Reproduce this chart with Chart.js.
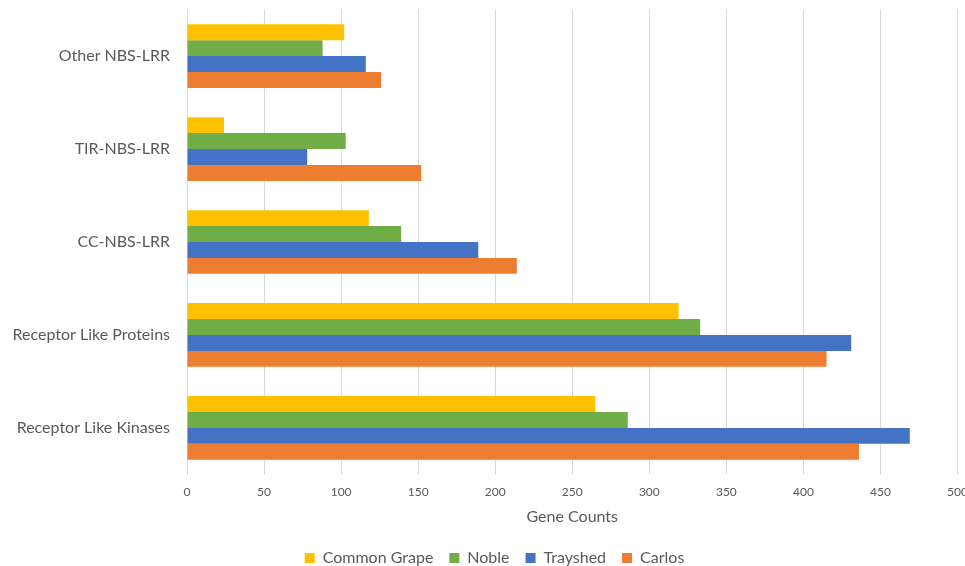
<!DOCTYPE html>
<html>
<head>
<meta charset="utf-8">
<script src="https://cdn.jsdelivr.net/npm/chart.js@4"></script>
<style>
  html, body { margin: 0; padding: 0; background: #fff; overflow: hidden; }
  #wrap { position: relative; width: 979px; height: 566px; }
</style>
</head>
<body>
<div id="wrap"><canvas id="c"></canvas></div>
<script>
const categories = ['Other NBS-LRR', 'TIR-NBS-LRR', 'CC-NBS-LRR', 'Receptor Like Proteins', 'Receptor Like Kinases'];
const seriesNames = ['Common Grape', 'Noble', 'Trayshed', 'Carlos'];
const commonGrape = [102, 24, 118, 319, 265];
const noble = [88, 103, 139, 333, 286];
const trayshed = [116, 78, 189, 431, 469];
const carlos = [126, 152, 214, 415, 436];
const xTicks = [0, 50, 100, 150, 200, 250, 300, 350, 400, 450, 500];
const xTitle = 'Gene Counts';

const colors = ['#FFC000', '#70AD47', '#4472C4', '#ED7D31'];
const values = [commonGrape, noble, trayshed, carlos];
const FONT = 'Lato, "Open Sans", sans-serif';
const TEXT = '#595959';
const LEFT_PAD = 10;

new Chart(document.getElementById('c'), {
  type: 'bar',
  data: {
    labels: categories,
    datasets: seriesNames.map((n, i) => ({
      label: n,
      data: values[i],
      backgroundColor: colors[i],
      borderWidth: 0,
      categoryPercentage: 0.685,
      barPercentage: 1.0
    }))
  },
  options: {
    indexAxis: 'y',
    responsive: true,
    maintainAspectRatio: false,
    animation: false,
    layout: { padding: { top: 9, right: 0, bottom: -10, left: LEFT_PAD } },
    scales: {
      x: {
        min: xTicks[0],
        max: xTicks[xTicks.length - 1],
        afterBuildTicks: (s) => { s.ticks = xTicks.map(v => ({ value: v })); },
        grid: { color: '#d9d9d9', lineWidth: 1, drawTicks: false },
        border: { display: false },
        ticks: { color: TEXT, font: { family: FONT, size: 12 }, padding: 11, maxRotation: 0 },
        title: { display: true, text: xTitle, color: TEXT, font: { family: FONT, size: 16 }, padding: { top: -4, bottom: 8 } }
      },
      y: {
        grid: { display: true, color: 'rgba(0,0,0,0)', drawOnChartArea: false, drawTicks: true, tickLength: 17 },
        border: { display: true, color: '#d9d9d9' },
        ticks: { color: TEXT, font: { family: FONT, size: 16 }, padding: 0 },
        afterFit: (s) => { s.width = 187 - LEFT_PAD; }
      }
    },
    plugins: {
      legend: {
        position: 'bottom',
        labels: {
          color: TEXT,
          font: { family: FONT, size: 16 },
          boxWidth: 10,
          boxHeight: 10,
          padding: 16
        }
      },
      tooltip: { enabled: false }
    }
  }
});
</script>
</body>
</html>
